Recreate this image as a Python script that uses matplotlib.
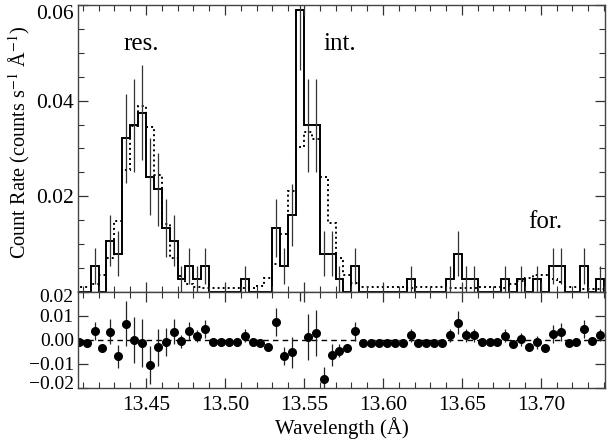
import numpy as np
import matplotlib
matplotlib.use('Agg')
import matplotlib.pyplot as plt
from matplotlib.ticker import MultipleLocator, FixedLocator
from matplotlib.transforms import ScaledTranslation

plt.rcParams['font.family'] = ['Liberation Serif', 'DejaVu Serif']
plt.rcParams['mathtext.fontset'] = 'stix'

# Spectral bins (Angstrom), 0.005 A wide
BIN_START = 13.405
BIN_WIDTH = 0.005

# Observed counts per bin
counts = [0, 0, 2, 0, 4, 3, 12, 13, 14, 9, 8, 5, 4, 1, 2, 1, 2, 0, 0, 0,
          0, 1, 0, 0, 0, 5, 2, 6, 22, 13, 13, 3, 3, 1, 0, 2, 0, 0, 0, 0,
          0, 0, 1, 0, 0, 0, 0, 1, 3, 1, 1, 0, 0, 0, 1, 0, 1, 0, 1, 0,
          2, 2, 0, 0, 2, 0, 1]
# Count rate of one count in a bin
RATE_PER_COUNT = 0.00268

# Model count rate per bin (dotted histogram)
model = [0.0010, 0.0011, 0.0016, 0.0035, 0.0072, 0.0149, 0.0254, 0.0348,
         0.0388, 0.0345, 0.0245, 0.0142, 0.0072, 0.0033, 0.0016, 0.0010,
         0.0008, 0.0008, 0.0008, 0.0008, 0.0008, 0.0009, 0.0009, 0.0012,
         0.0030, 0.0059, 0.0121, 0.0212, 0.0303, 0.0335, 0.0320, 0.0241,
         0.0144, 0.0071, 0.0035, 0.0018, 0.0011, 0.0011, 0.0011, 0.0011,
         0.0011, 0.0011, 0.0008, 0.0011, 0.0011, 0.0011, 0.0011, 0.0008,
         0.0008, 0.0008, 0.0008, 0.0010, 0.0010, 0.0010, 0.0009, 0.0017,
         0.0023, 0.0030, 0.0036, 0.0035, 0.0028, 0.0021, 0.0011, 0.0010,
         0.0007, 0.0006, 0.0006]

line_labels = ['res.', 'int.', 'for.']
line_label_pos = [(13.447, 0.0506), (13.573, 0.0506), (13.703, 0.0134)]

counts = np.array(counts)
model = np.array(model)
edges = BIN_START + BIN_WIDTH * np.arange(len(counts) + 1)
centers = 0.5 * (edges[:-1] + edges[1:])
rate = counts * RATE_PER_COUNT
err = np.sqrt(counts) * RATE_PER_COUNT
resid = rate - model
has = counts > 0

fig = plt.figure(figsize=(6.07, 4.43), dpi=100)
ax1 = fig.add_axes([0.1285, 0.3409, 0.868, 0.6478])
ax2 = fig.add_axes([0.1285, 0.1242, 0.868, 0.2167], sharex=ax1)

# top panel: data + model
ax1.stairs(rate, edges, color='black', lw=1.4)
ax1.stairs(model, edges, color='black', lw=1.4, ls=(0, (1, 1.6)))
ax1.vlines(centers[has], (rate - err)[has], (rate + err)[has],
           color='#333333', lw=0.9)
for lab, (x, y) in zip(line_labels, line_label_pos):
    ax1.text(x, y, lab, fontsize=18, ha='center', va='baseline')

ax1.set_ylim(0, 0.06)
ax1.yaxis.set_major_locator(FixedLocator([0.02, 0.04, 0.06]))
ax1.yaxis.set_minor_locator(MultipleLocator(0.005))
ax1.set_ylabel('Count Rate (counts s$^{-1}$ Å$^{-1}$)', fontsize=14.6)
ax1.yaxis.set_label_coords(-0.088, 0.52)
plt.setp(ax1.get_xticklabels(), visible=False)

# bottom panel: residuals
ax2.axhline(0, color='black', lw=1, ls=(0, (4, 3)))
ax2.errorbar(centers, resid, yerr=err, fmt='o', color='black', ms=5.5,
             elinewidth=0.9, ecolor='#222222', capsize=0)
ax2.set_ylim(-0.02, 0.02)
ax2.yaxis.set_major_locator(FixedLocator([-0.02, -0.01, 0.0, 0.01, 0.02]))
ax2.yaxis.set_major_formatter(plt.FuncFormatter(
    lambda v, p: ('\u2212' if v < -1e-9 else '') + '%.2f' % abs(v)))
ax2.set_xlim(13.407, 13.7405)
ax2.xaxis.set_major_locator(MultipleLocator(0.05))
ax2.xaxis.set_minor_locator(MultipleLocator(0.01))
ax2.xaxis.set_major_formatter(plt.FormatStrFormatter('%.2f'))
ax2.set_xlabel('Wavelength (Å)', fontsize=15, labelpad=1)

for ax in (ax1, ax2):
    ax.tick_params(which='both', direction='in', top=True, right=True,
                   labelsize=15.5, color='#333333', pad=3)
    ax.tick_params(which='major', length=7, width=0.9)
    ax.tick_params(which='minor', length=4, width=0.8)
    for s in ax.spines.values():
        s.set_color('#444444')
        s.set_linewidth(1.0)
ax2.tick_params(axis='x', pad=6)
ax2.tick_params(axis='y', labelsize=14)

# edge labels nudged inside the panels, as in the original
ax1.yaxis.get_major_ticks()[2].label1.set_va('top')
for i, dy in [(4, -4), (0, 5)]:
    lbl = ax2.yaxis.get_major_ticks()[i].label1
    lbl.set_transform(lbl.get_transform()
                      + ScaledTranslation(0, dy / 100, fig.dpi_scale_trans))

fig.savefig('out.png', dpi=100)
